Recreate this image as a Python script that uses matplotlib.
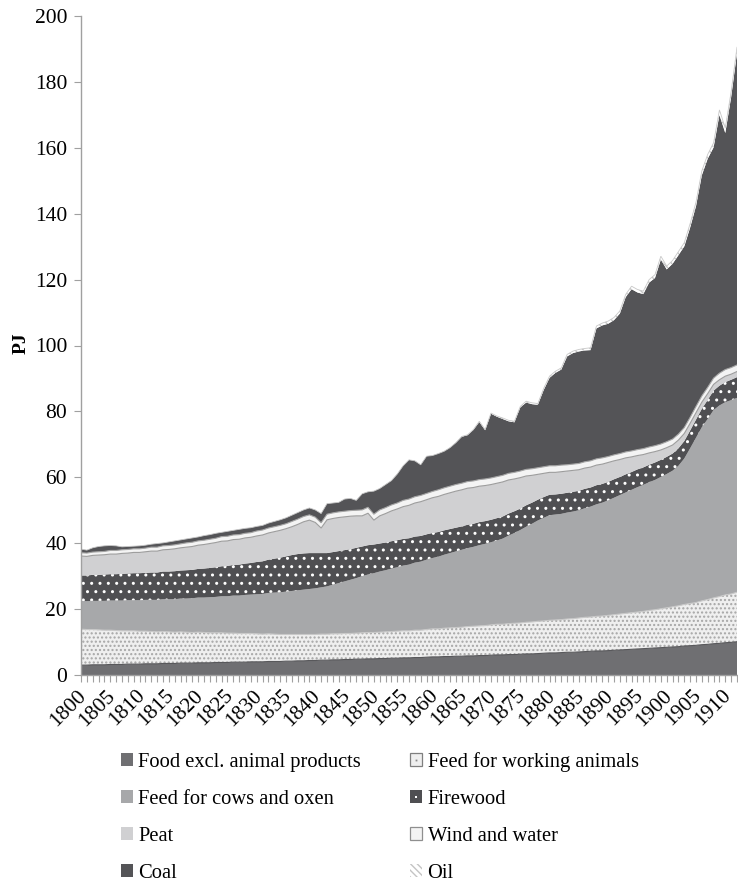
import numpy as np
import matplotlib
matplotlib.use("Agg")
import matplotlib.pyplot as plt
from matplotlib.patches import Patch
from matplotlib.lines import Line2D
from matplotlib.ticker import MultipleLocator
import matplotlib.transforms as mtransforms

plt.rcParams['font.family'] = ['Liberation Serif', 'DejaVu Serif']
plt.rcParams['hatch.linewidth'] = 1.0

years = list(range(1800, 1913))

food = [
    3.0, 3.0, 3.1, 3.1, 3.1, 3.2, 3.2, 3.2, 3.3, 3.3,
    3.3, 3.4, 3.4, 3.4, 3.5, 3.5, 3.5, 3.6, 3.6, 3.6,
    3.7, 3.7, 3.7, 3.8, 3.8, 3.8, 3.9, 3.9, 3.9, 4.0,
    4.0, 4.0, 4.1, 4.1, 4.1, 4.2, 4.2, 4.3, 4.3, 4.4,
    4.4, 4.5, 4.5, 4.6, 4.6, 4.7, 4.7, 4.8, 4.8, 4.9,
    4.9, 5.0, 5.0, 5.1, 5.1, 5.2, 5.2, 5.3, 5.3, 5.4,
    5.5, 5.5, 5.6, 5.6, 5.7, 5.7, 5.8, 5.8, 5.9, 5.9,
    6.0, 6.1, 6.1, 6.2, 6.2, 6.3, 6.4, 6.4, 6.5, 6.6,
    6.7, 6.7, 6.8, 6.9, 6.9, 7.0, 7.1, 7.2, 7.3, 7.3,
    7.4, 7.5, 7.6, 7.7, 7.8, 7.9, 8.0, 8.1, 8.2, 8.3,
    8.4, 8.5, 8.6, 8.8, 8.9, 9.0, 9.2, 9.3, 9.5, 9.6,
    9.8, 9.9, 10.1]

feed_working = [
    10.9, 10.8, 10.7, 10.6, 10.5, 10.4, 10.3, 10.2, 10.1, 10.1,
    10.0, 9.9, 9.8, 9.7, 9.7, 9.6, 9.5, 9.5, 9.4, 9.3,
    9.3, 9.2, 9.1, 9.0, 9.0, 8.9, 8.8, 8.7, 8.7, 8.6,
    8.5, 8.4, 8.4, 8.3, 8.2, 8.1, 8.1, 8.0, 8.0, 7.9,
    7.9, 7.9, 7.9, 7.9, 7.9, 7.9, 7.9, 7.9, 8.0, 8.0,
    8.0, 8.0, 8.1, 8.1, 8.2, 8.2, 8.2, 8.3, 8.3, 8.4,
    8.5, 8.5, 8.6, 8.7, 8.7, 8.8, 8.9, 9.0, 9.0, 9.1,
    9.2, 9.3, 9.3, 9.4, 9.5, 9.5, 9.6, 9.7, 9.8, 9.8,
    9.9, 10.0, 10.0, 10.1, 10.2, 10.3, 10.4, 10.4, 10.5, 10.6,
    10.7, 10.8, 10.9, 11.0, 11.1, 11.2, 11.3, 11.5, 11.6, 11.8,
    12.0, 12.2, 12.4, 12.6, 12.8, 13.0, 13.3, 13.6, 13.9, 14.2,
    14.5, 14.7, 15.0]

feed_cows = [
    8.5, 8.6, 8.7, 8.8, 8.9, 9.0, 9.1, 9.2, 9.3, 9.3,
    9.4, 9.5, 9.6, 9.7, 9.8, 9.9, 10.0, 10.1, 10.2, 10.4,
    10.5, 10.6, 10.8, 10.9, 11.1, 11.2, 11.4, 11.5, 11.7, 11.8,
    12.0, 12.2, 12.4, 12.6, 12.8, 13.0, 13.2, 13.4, 13.6, 13.8,
    14.0, 14.2, 14.5, 14.9, 15.4, 15.8, 16.3, 16.7, 17.2, 17.6,
    18.0, 18.4, 18.7, 19.1, 19.4, 19.8, 20.1, 20.5, 20.8, 21.2,
    21.5, 21.9, 22.3, 22.7, 23.1, 23.5, 23.8, 24.1, 24.5, 24.8,
    25.1, 25.4, 26.0, 26.7, 27.4, 28.2, 29.0, 29.8, 30.6, 31.3,
    31.9, 32.0, 32.1, 32.3, 32.5, 32.7, 33.1, 33.5, 34.0, 34.4,
    34.9, 35.5, 36.1, 36.7, 37.3, 37.9, 38.4, 38.9, 39.4, 40.0,
    40.6, 41.3, 42.5, 44.3, 47.1, 50.0, 52.7, 54.8, 57.0, 58.0,
    58.5, 58.8, 59.0]

firewood = [
    7.8, 7.8, 7.9, 7.9, 8.0, 8.0, 8.0, 8.1, 8.1, 8.2,
    8.2, 8.2, 8.3, 8.3, 8.4, 8.4, 8.5, 8.5, 8.6, 8.6,
    8.7, 8.8, 8.9, 9.0, 9.1, 9.2, 9.3, 9.4, 9.5, 9.6,
    9.8, 9.9, 10.1, 10.3, 10.5, 10.7, 10.9, 11.0, 11.0, 10.9,
    10.7, 10.4, 10.1, 9.9, 9.7, 9.5, 9.3, 9.2, 9.0, 8.9,
    8.7, 8.5, 8.4, 8.3, 8.2, 8.1, 8.0, 7.9, 7.8, 7.7,
    7.6, 7.5, 7.4, 7.3, 7.2, 7.1, 7.1, 7.0, 7.0, 6.9,
    6.8, 6.8, 6.7, 6.7, 6.6, 6.5, 6.5, 6.4, 6.3, 6.3,
    6.2, 6.1, 6.1, 6.0, 6.0, 5.9, 5.9, 5.8, 5.8, 5.7,
    5.6, 5.6, 5.5, 5.5, 5.4, 5.4, 5.3, 5.3, 5.3, 5.2,
    5.2, 5.2, 5.3, 5.3, 5.4, 5.5, 5.6, 5.8, 5.9, 6.0,
    6.1, 6.2, 6.3]

peat = [
    5.9, 5.8, 5.9, 6.0, 6.0, 6.1, 6.1, 6.2, 6.2, 6.3,
    6.3, 6.4, 6.5, 6.5, 6.6, 6.7, 6.8, 6.9, 7.0, 7.1,
    7.2, 7.3, 7.4, 7.5, 7.6, 7.6, 7.7, 7.7, 7.8, 7.8,
    7.9, 8.0, 8.1, 8.2, 8.3, 8.4, 8.6, 9.0, 9.6, 10.0,
    9.3, 7.6, 10.1, 10.2, 10.2, 10.1, 10.0, 9.7, 9.3, 9.7,
    7.4, 8.4, 8.8, 9.2, 9.5, 9.8, 10.0, 10.2, 10.4, 10.5,
    10.7, 10.8, 10.9, 11.0, 11.1, 11.1, 11.1, 11.0, 10.9, 10.8,
    10.7, 10.6, 10.5, 10.2, 9.8, 9.4, 8.9, 8.3, 7.7, 7.2,
    6.8, 6.7, 6.7, 6.6, 6.5, 6.4, 6.3, 6.2, 6.1, 6.0,
    5.9, 5.6, 5.3, 5.0, 4.6, 4.2, 3.9, 3.6, 3.3, 3.0,
    2.8, 2.6, 2.5, 2.3, 2.2, 2.1, 2.0, 1.9, 1.9, 1.8,
    1.8, 1.7, 1.7]

wind_water = [
    1.0, 1.0, 1.0, 1.0, 1.0, 1.1, 1.1, 1.1, 1.1, 1.1,
    1.1, 1.1, 1.2, 1.2, 1.2, 1.2, 1.2, 1.2, 1.3, 1.3,
    1.3, 1.3, 1.3, 1.3, 1.4, 1.4, 1.4, 1.4, 1.4, 1.4,
    1.5, 1.5, 1.5, 1.5, 1.5, 1.5, 1.6, 1.6, 1.6, 1.6,
    1.6, 1.6, 1.7, 1.7, 1.7, 1.7, 1.7, 1.7, 1.8, 1.8,
    1.8, 1.8, 1.8, 1.8, 1.8, 1.9, 1.9, 1.9, 1.9, 1.9,
    1.9, 2.0, 2.0, 2.0, 2.0, 2.0, 2.0, 2.0, 2.0, 2.0,
    2.0, 2.0, 2.0, 2.0, 2.0, 2.0, 2.0, 2.0, 2.0, 2.0,
    2.0, 2.0, 2.0, 1.9, 1.9, 1.9, 1.9, 1.9, 1.9, 1.9,
    1.8, 1.8, 1.8, 1.8, 1.8, 1.8, 1.8, 1.8, 1.8, 1.8,
    1.8, 1.8, 1.8, 1.8, 1.8, 1.9, 1.9, 1.9, 1.9, 2.0,
    2.0, 2.0, 2.0]

coal = [
    1.1, 0.9, 1.3, 1.6, 1.7, 1.5, 1.4, 0.9, 0.9, 0.8,
    0.9, 0.9, 0.9, 1.1, 0.9, 1.1, 1.2, 1.2, 1.2, 1.3,
    1.2, 1.4, 1.4, 1.5, 1.3, 1.5, 1.4, 1.6, 1.5, 1.5,
    1.4, 1.4, 1.5, 1.6, 1.7, 1.8, 1.9, 2.0, 2.0, 2.1,
    2.2, 2.8, 3.2, 3.0, 2.9, 3.7, 3.7, 3.0, 4.9, 4.7,
    7.0, 6.5, 7.0, 7.4, 8.8, 10.5, 11.9, 10.9, 9.3, 11.3,
    10.9, 11.0, 11.1, 11.7, 12.7, 14.1, 14.1, 15.5, 17.5, 14.8,
    19.5, 18.2, 17.1, 15.8, 15.2, 19.3, 20.3, 19.6, 19.1, 23.3,
    26.7, 28.2, 29.0, 32.9, 33.7, 34.0, 33.8, 33.6, 39.6, 40.2,
    40.3, 40.9, 42.5, 47.0, 49.1, 47.7, 46.9, 49.9, 50.9, 56.0,
    52.3, 53.2, 54.3, 55.0, 57.6, 60.8, 67.0, 69.4, 70.0, 78.4,
    71.8, 82.1, 94.7]

oil = [
    0.0, 0.0, 0.0, 0.0, 0.0, 0.0, 0.0, 0.0, 0.0, 0.0,
    0.0, 0.0, 0.0, 0.0, 0.0, 0.0, 0.0, 0.0, 0.0, 0.0,
    0.0, 0.0, 0.0, 0.0, 0.0, 0.0, 0.0, 0.0, 0.0, 0.0,
    0.0, 0.0, 0.0, 0.0, 0.0, 0.0, 0.0, 0.0, 0.0, 0.0,
    0.0, 0.0, 0.0, 0.0, 0.0, 0.0, 0.0, 0.0, 0.0, 0.0,
    0.0, 0.0, 0.0, 0.0, 0.0, 0.0, 0.0, 0.0, 0.0, 0.0,
    0.0, 0.0, 0.0, 0.0, 0.0, 0.1, 0.1, 0.1, 0.2, 0.2,
    0.2, 0.2, 0.3, 0.3, 0.3, 0.3, 0.4, 0.4, 0.4, 0.5,
    0.5, 0.5, 0.5, 0.6, 0.6, 0.6, 0.6, 0.7, 0.7, 0.7,
    0.8, 0.8, 0.8, 0.8, 0.9, 0.9, 0.9, 0.9, 1.0, 1.0,
    1.0, 1.0, 1.1, 1.1, 1.2, 1.2, 1.3, 1.3, 1.4, 1.5,
    1.5, 1.6, 1.7]

labels = ["Food excl. animal products", "Feed for working animals",
          "Feed for cows and oxen", "Firewood", "Peat", "Wind and water",
          "Coal", "Oil"]
series = [food, feed_working, feed_cows, firewood, peat, wind_water, coal, oil]

faces = ['#6f6f72', '#efefef', '#a7a8aa', '#4f4f52',
         '#d0d0d2', '#f4f4f4', '#545457', '#ffffff']
hatches = [None, '....', None, '..', None, None, None, '\\\\\\\\']
hatch_cols = [None, '#a6a6a6', None, '#ffffff', None, None, None, '#c4c4c4']

W, H = 738, 885
fig = plt.figure(figsize=(W / 100, H / 100), dpi=100)
ax = fig.add_axes([81 / W, 1 - 675 / H, (737 - 81) / W, (675 - 16) / H])

polys = ax.stackplot(years, *series, colors=faces, linewidth=0)
for p, h, hc in zip(polys, hatches, hatch_cols):
    if h:
        p.set_hatch(h)
        p.set_edgecolor(hc)
        p.set_linewidth(0)

# thin outlines between the layers
tops = np.cumsum(np.array(series), axis=0)
edge_styles = {0: ('#58585b', 0.8), 1: ('#c9c9c9', 0.8), 4: ('#9d9d9d', 0.8),
               5: ('#a5a5a5', 0.8), 7: ('#c8c8c8', 0.6)}
for idx, (col, lw) in edge_styles.items():
    ax.plot(years, tops[idx], color=col, lw=lw, solid_joinstyle='miter')

ax.set_xlim(1800, 1912)
ax.set_ylim(0, 200)

axis_grey = '#a0a0a0'
for side in ('top', 'right'):
    ax.spines[side].set_visible(False)
for side in ('left', 'bottom'):
    ax.spines[side].set_color(axis_grey)
    ax.spines[side].set_linewidth(1.0)

tick_fs = 15.5
ax.yaxis.set_major_locator(MultipleLocator(20))
ax.xaxis.set_major_locator(MultipleLocator(5))
ax.xaxis.set_minor_locator(MultipleLocator(1))
ax.tick_params(axis='both', which='both', direction='out', length=5,
               width=0.8, color=axis_grey, labelsize=tick_fs, labelcolor='black')
ax.tick_params(axis='y', pad=5)
ax.tick_params(axis='x', pad=3)

xt = list(range(1800, 1911, 5))
ax.set_xticks(xt)
ax.set_xticklabels([str(y) for y in xt], rotation=45, ha='right',
                   va='top', rotation_mode='anchor')
shift = mtransforms.ScaledTranslation(-3 / 72, 0, fig.dpi_scale_trans)
for lab in ax.get_xticklabels():
    lab.set_transform(lab.get_transform() + shift)

ax.set_ylabel('PJ', fontsize=14, fontweight='bold')
ax.yaxis.set_label_coords(-0.078, 0.504)

leg_fs = 14.8
dot_work = Line2D([], [], ls='', marker='s', ms=1.3, mew=0,
                  markerfacecolor='#8a8a8a')
dot_fire = Line2D([], [], ls='', marker='s', ms=1.6, mew=0,
                  markerfacecolor='#ffffff')
handles = [
    Patch(facecolor=faces[0], edgecolor='none'),
    (Patch(facecolor=faces[1], edgecolor='#7f7f7f', lw=0.9), dot_work),
    Patch(facecolor=faces[2], edgecolor='none'),
    (Patch(facecolor=faces[3], edgecolor='none'), dot_fire),
    Patch(facecolor=faces[4], edgecolor='none'),
    Patch(facecolor=faces[5], edgecolor='#8f8f8f', lw=0.9),
    Patch(facecolor=faces[6], edgecolor='none'),
    Patch(facecolor='#ffffff', edgecolor='#c4c4c4', hatch='\\\\\\\\\\', lw=0),
]
# two columns, filled row by row
order = [0, 2, 4, 6, 1, 3, 5, 7]
leg = fig.legend([handles[i] for i in order], [labels[i] for i in order],
                 loc='upper left', bbox_to_anchor=(121 / W, 1 - 752 / H),
                 ncol=2, frameon=False, fontsize=leg_fs, borderpad=0,
                 handlelength=0.56, handleheight=0.56, handletextpad=0.28,
                 columnspacing=2.4, labelspacing=0.87, borderaxespad=0)

fig.savefig('out.png', dpi=100)
